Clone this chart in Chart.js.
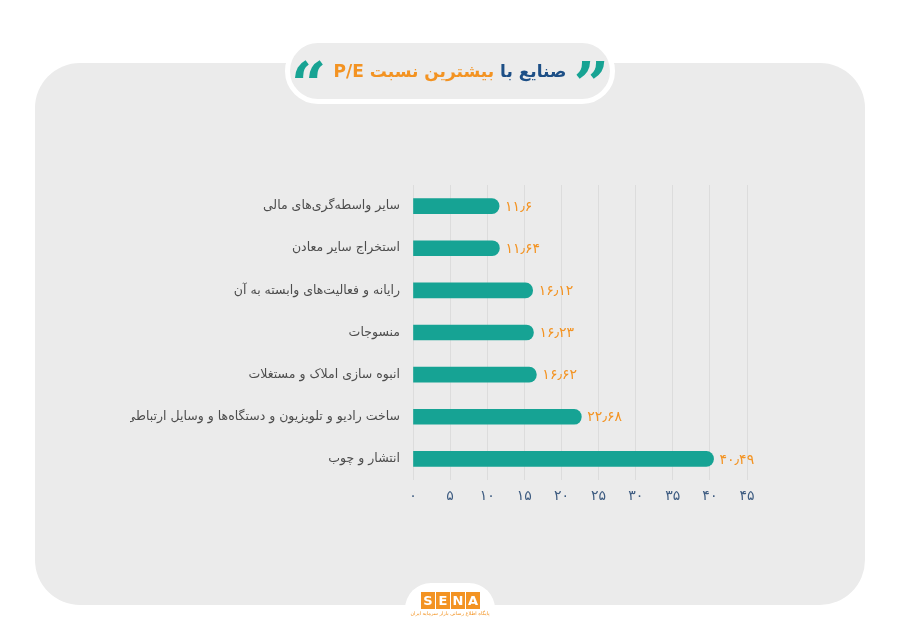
<!DOCTYPE html>
<html lang="fa">
<head>
  <meta charset="UTF-8">
  <title>صنایع با بیشترین نسبت P/E</title>
  <script src="https://cdn.jsdelivr.net/npm/chart.js"></script>
  <style>
    body {
      margin: 0;
      width: 900px;
      height: 636px;
      background: #fff;
      position: relative;
      overflow: hidden;
      font-family: 'DejaVu Sans', sans-serif;
    }
    #panel {
      position: absolute;
      left: 35px;
      top: 63px;
      width: 830px;
      height: 542px;
      background: #ebebeb;
      border-radius: 45px;
    }
    #titleBox {
      position: absolute;
      left: 285px;
      top: 38px;
      width: 320px;
      height: 56px;
      background: #ececec;
      border: 5px solid #fff;
      border-radius: 34px;
      display: flex;
      align-items: center;
      justify-content: center;
      white-space: nowrap;
    }
    #titleBox .t {
      font-size: 17px;
      font-weight: bold;
      color: #1d4f86;
      margin: 0 7px;
    }
    #titleBox .o { color: #f39322; }
    #titleBox .q {
      color: #17a393;
      font-size: 62px;
      font-weight: bold;
      font-family: 'DejaVu Serif', serif;
      line-height: 62px;
      height: 62px;
      margin-top: 28px;
    }
    #chartWrap {
      position: absolute;
      left: 0;
      top: 0;
      width: 900px;
      height: 636px;
    }
    #logo {
      position: absolute;
      left: 405px;
      top: 583px;
      width: 90px;
      height: 70px;
      background: #fff;
      border-radius: 26px;
      text-align: center;
    }
    #logo .box {
      display: inline-block;
      width: 14px;
      height: 17px;
      margin: 9px 0 0 1px;
      background: #f39322;
      color: #fff;
      font: bold 13px/17px 'DejaVu Sans', sans-serif;
    }
    #logo .tag {
      font-size: 5px;
      color: #f39322;
      margin-top: 1px;
    }
  </style>
</head>
<body>
  <div id="panel"></div>
  <div id="chartWrap"><canvas id="peChart" width="900" height="636"></canvas></div>
  <div id="titleBox">
    <span class="q">&#8220;</span>
    <span class="t" dir="rtl">صنایع با <span class="o">بیشترین نسبت P/E</span></span>
    <span class="q">&#8221;</span>
  </div>
  <div id="logo">
    <span class="box">S</span><span class="box">E</span><span class="box">N</span><span class="box">A</span>
    <div class="tag" dir="rtl">پایگاه اطلاع رسانی بازار سرمایه ایران</div>
  </div>

  <script>
    const categories = [
      'سایر واسطه‌گری‌های مالی',
      'استخراج سایر معادن',
      'رایانه و فعالیت‌های وابسته به آن',
      'منسوجات',
      'انبوه سازی املاک و مستغلات',
      'ساخت رادیو و تلویزیون و دستگاه‌ها و وسایل ارتباطی',
      'انتشار و چوب'
    ];
    const peValues = [11.6, 11.64, 16.12, 16.23, 16.62, 22.68, 40.49];
    const xTicks = [0, 5, 10, 15, 20, 25, 30, 35, 40, 45];

    function toFa(n) {
      return String(n).replace('.', '٫').replace(/[0-9]/g, d => '۰۱۲۳۴۵۶۷۸۹'[d]);
    }

    const valueLabels = {
      id: 'valueLabels',
      afterDatasetsDraw(chart) {
        const ctx = chart.ctx;
        const meta = chart.getDatasetMeta(0);
        ctx.save();
        ctx.fillStyle = '#f39322';
        ctx.font = '14px "DejaVu Sans", sans-serif';
        ctx.textBaseline = 'middle';
        ctx.textAlign = 'left';
        meta.data.forEach((bar, i) => {
          ctx.fillText(toFa(peValues[i]), bar.x + 6, bar.y + 1);
        });
        ctx.restore();
      }
    };

    new Chart(document.getElementById('peChart'), {
      type: 'bar',
      data: {
        labels: categories,
        datasets: [{
          data: peValues,
          backgroundColor: '#16a394',
          barThickness: 15,
          borderRadius: 8,
          borderSkipped: 'start'
        }]
      },
      options: {
        indexAxis: 'y',
        responsive: false,
        animation: false,
        layout: { padding: { left: 130, right: 153, top: 185, bottom: 126 } },
        plugins: {
          legend: { display: false },
          tooltip: { enabled: false }
        },
        scales: {
          x: {
            min: 0,
            max: 45,
            afterBuildTicks(scale) {
              scale.ticks = xTicks.map(v => ({ value: v }));
            },
            afterFit(scale) { scale.height = 30; },
            border: { display: false },
            grid: { color: '#dcdcdc', drawTicks: false },
            ticks: {
              padding: 8,
              color: '#3d5b80',
              font: { size: 14, family: 'DejaVu Sans' },
              callback: v => toFa(v)
            }
          },
          y: {
            afterFit(scale) { scale.width = 283; },
            border: { display: false },
            grid: { display: false, drawTicks: false },
            ticks: {
              padding: 13,
              color: '#4d4d4d',
              font: { size: 12.5, family: 'DejaVu Sans' }
            }
          }
        }
      },
      plugins: [valueLabels]
    });
  </script>
</body>
</html>
